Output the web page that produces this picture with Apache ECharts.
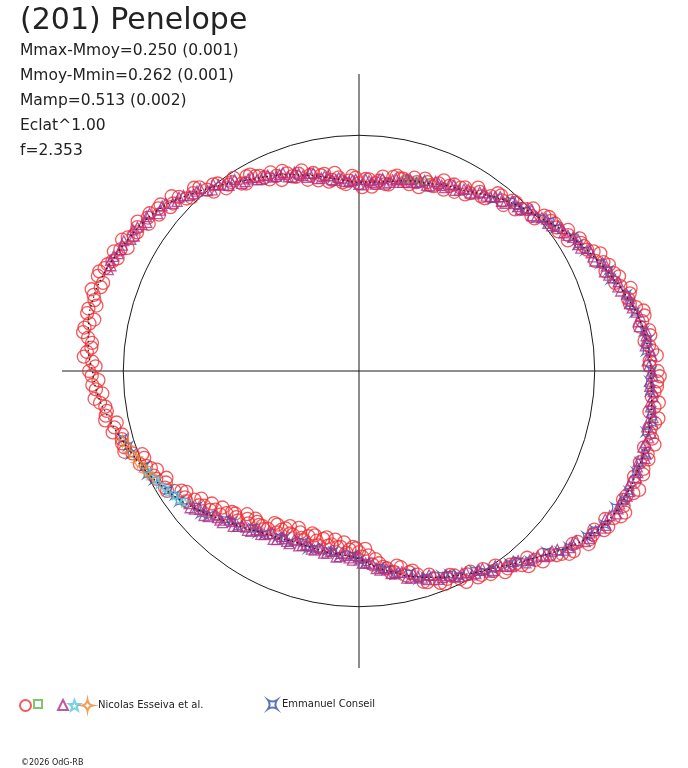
<!DOCTYPE html>
<html>
<head>
<meta charset="utf-8">
<script src="https://cdn.jsdelivr.net/npm/echarts@6/dist/echarts.min.js"></script>
<style>
html,body{margin:0;padding:0;background:#fff;}
#chart{width:688px;height:768px;}
</style>
</head>
<body>
<div id="chart"></div>
<script>
// Polar light curve: [phase in degrees, relative radius (reference circle = 1)]
const titleText = '(201) Penelope';
const statLines = ['Mmax-Mmoy=0.250 (0.001)', 'Mmoy-Mmin=0.262 (0.001)', 'Mamp=0.513 (0.002)', 'Eclat^1.00', 'f=2.353'];
const copyrightText = '\u00a92026 OdG-RB';
const referenceRadius = 1;
const radiusMax = 1.26;

const fitCurve = [[0,1.237],[5,1.229],[10,1.212],[15,1.182],[20,1.148],[25,1.114],[30,1.081],[35,1.047],[40,1.008],[45,0.979],
[50,0.949],[55,0.915],[60,0.886],[65,0.869],[70,0.847],[75,0.835],[80,0.818],[85,0.805],[90,0.801],[95,0.814],
[100,0.835],[105,0.860],[110,0.886],[115,0.911],[120,0.936],[125,0.970],[130,1.008],[135,1.047],[140,1.085],[145,1.110],
[150,1.127],[155,1.144],[160,1.161],[165,1.169],[170,1.165],[175,1.153],[180,1.131],[185,1.114],[190,1.085],[195,1.055],
[200,1.025],[205,1.000],[210,0.970],[215,0.941],[220,0.907],[225,0.873],[230,0.843],[235,0.818],[240,0.797],[245,0.784],
[250,0.775],[255,0.775],[260,0.780],[265,0.784],[270,0.797],[275,0.835],[280,0.869],[285,0.903],[290,0.932],[295,0.958],
[300,0.987],[305,1.017],[310,1.059],[315,1.106],[320,1.161],[325,1.208],[330,1.237],[335,1.250],[340,1.254],[345,1.258],
[350,1.254],[355,1.246],[360,1.237]];

const redCirclesA = [[0,1.267],[2,1.234],[4,1.247],[6,1.218],[8,1.243],[10,1.220],[12,1.234],[14,1.184],[16,1.195],[18,1.166],
[20,1.174],[22,1.128],[24,1.135],[26,1.139],[28,1.096],[30,1.087],[32,1.045],[34,1.070],[36,1.037],[38,1.034],
[40,1.026],[42,0.984],[44,0.989],[46,0.953],[48,0.973],[50,0.945],[52,0.957],[54,0.906],[56,0.917],[58,0.890],
[60,0.900],[62,0.861],[64,0.874],[66,0.885],[68,0.846],[70,0.853],[72,0.820],[74,0.853],[76,0.830],[78,0.835],
[80,0.836],[82,0.801],[84,0.812],[86,0.784],[88,0.815],[90,0.797],[92,0.828],[94,0.795],[96,0.826],[98,0.819],
[100,0.849],[102,0.827],[104,0.857],[106,0.885],[108,0.866],[110,0.892],[112,0.874],[114,0.922],[116,0.914],[118,0.936],
[120,0.954],[122,0.938],[124,0.967],[126,0.958],[128,1.005],[130,1.004],[132,1.046],[134,1.023],[136,1.063],[138,1.062],
[140,1.099],[142,1.077],[144,1.107],[146,1.133],[148,1.110],[150,1.133],[152,1.112],[154,1.157],[156,1.145],[158,1.164],
[160,1.179],[162,1.152],[164,1.171],[166,1.148],[168,1.179],[170,1.161],[172,1.182],[174,1.139],[176,1.157],[178,1.132],
[180,1.145],[182,1.106],[184,1.119],[186,1.128],[188,1.087],[190,1.091],[192,1.051],[194,1.077],[196,1.047],[198,1.047],
[200,1.023],[202,0.983],[204,0.989],[206,0.954],[208,0.974],[210,0.946],[212,0.960],[214,0.908],[216,0.912],[218,0.886],
[220,0.886],[222,0.840],[224,0.847],[226,0.847],[228,0.805],[230,0.809],[232,0.771],[234,0.799],[236,0.772],[238,0.775],
[240,0.773],[242,0.738],[244,0.749],[246,0.720],[248,0.749],[250,0.729],[252,0.755],[254,0.717],[256,0.742],[258,0.728],
[260,0.752],[262,0.722],[264,0.750],[266,0.772],[268,0.747],[270,0.768],[272,0.755],[274,0.823],[276,0.820],[278,0.845],
[280,0.867],[282,0.851],[284,0.880],[286,0.899],[288,0.942],[290,0.938],[292,0.974],[294,0.947],[296,0.982],[298,0.977],
[300,1.011],[302,0.991],[304,1.023],[306,1.055],[308,1.042],[310,1.075],[312,1.066],[314,1.123],[316,1.125],[318,1.159],
[320,1.189],[322,1.178],[324,1.213],[326,1.204],[328,1.247],[330,1.248],[332,1.279],[334,1.246],[336,1.274],[338,1.259],
[340,1.283],[342,1.253],[344,1.274],[346,1.292],[348,1.261],[350,1.275],[352,1.244],[354,1.279],[356,1.257],[358,1.266]];

const redCirclesB = [[1,1.233],[3,1.265],[5,1.235],[7,1.245],[9,1.206],[11,1.234],[13,1.206],[15,1.182],[17,1.205],[19,1.149],
[21,1.159],[23,1.152],[25,1.106],[27,1.117],[29,1.092],[31,1.092],[33,1.059],[35,1.033],[37,1.040],[39,1.038],
[41,0.987],[43,1.011],[45,0.973],[47,0.977],[49,0.933],[51,0.958],[53,0.929],[55,0.904],[57,0.928],[59,0.874],
[61,0.889],[63,0.888],[65,0.849],[67,0.865],[69,0.844],[71,0.863],[73,0.838],[75,0.821],[77,0.837],[79,0.844],
[81,0.801],[83,0.831],[85,0.800],[87,0.814],[89,0.780],[91,0.820],[93,0.809],[95,0.803],[97,0.847],[99,0.813],
[101,0.846],[103,0.862],[105,0.840],[107,0.875],[109,0.873],[111,0.909],[113,0.899],[115,0.897],[117,0.929],[119,0.953],
[121,0.928],[123,0.977],[125,0.965],[127,0.996],[129,0.979],[131,1.032],[133,1.032],[135,1.035],[137,1.087],[139,1.060],
[141,1.096],[143,1.112],[145,1.089],[147,1.121],[149,1.116],[151,1.149],[153,1.136],[155,1.130],[157,1.159],[159,1.180],
[161,1.148],[163,1.186],[165,1.162],[167,1.178],[169,1.144],[171,1.179],[173,1.158],[175,1.140],[177,1.169],[179,1.118],
[181,1.134],[183,1.133],[185,1.093],[187,1.107],[189,1.083],[191,1.097],[193,1.065],[195,1.041],[197,1.051],[199,1.053],
[201,0.985],[203,1.010],[205,0.974],[207,0.978],[209,0.934],[211,0.960],[213,0.933],[215,0.894],[217,0.917],[219,0.861],
[221,0.871],[223,0.864],[225,0.819],[227,0.825],[229,0.801],[231,0.816],[233,0.786],[235,0.765],[237,0.778],[239,0.783],
[241,0.738],[243,0.768],[245,0.737],[247,0.749],[249,0.713],[251,0.749],[253,0.733],[255,0.722],[257,0.759],[259,0.719],
[261,0.745],[263,0.753],[265,0.730],[267,0.759],[269,0.752],[271,0.788],[273,0.783],[275,0.801],[277,0.837],[279,0.864],
[281,0.841],[283,0.890],[285,0.877],[287,0.935],[289,0.914],[291,0.963],[293,0.958],[295,0.957],[297,1.004],[299,0.973],
[301,1.009],[303,1.027],[305,1.008],[307,1.048],[309,1.053],[311,1.097],[313,1.096],[315,1.103],[317,1.146],[319,1.182],
[321,1.166],[323,1.220],[325,1.211],[327,1.240],[329,1.219],[331,1.271],[333,1.260],[335,1.252],[337,1.291],[339,1.250],
[341,1.276],[343,1.284],[345,1.252],[347,1.276],[349,1.262],[351,1.286],[353,1.263],[355,1.247],[357,1.266],[359,1.276]];

const greenSquares = [[70.5,0.850],[72.5,0.846],[74,0.838],[76.5,0.836]];

const magentaTrianglesA = [[219,0.922],[221,0.894],[223,0.899],[225,0.864],[227,0.865],[229,0.837],[231,0.848],[233,0.824],[235,0.825],[237,0.802],
[239,0.809],[241,0.789],[243,0.802],[245,0.775],[247,0.785],[249,0.765],[251,0.785],[253,0.771],[255,0.782],[257,0.769],
[259,0.787],[261,0.775],[263,0.795],[265,0.775],[267,0.794],[269,0.783],[271,0.815],[273,0.816],[275,0.841],[277,0.841],
[279,0.870],[281,0.870],[283,0.902],[285,0.893],[287,0.919],[289,0.914],[291,0.947],[293,0.944],[295,0.965],[297,0.962],
[299,0.989],[301,0.987],[303,1.017],[305,1.008],[307,1.038],[309,1.039],[311,1.079],[313,1.084],[315,1.113],[317,1.120],
[319,1.158],[321,1.165],[323,1.202],[325,1.197],[327,1.224],[329,1.219],[331,1.250],[333,1.241],[335,1.255],[337,1.244],
[339,1.261],[341,1.249],[343,1.269],[345,1.247],[347,1.261],[349,1.243],[351,1.263],[353,1.246],[355,1.252],[357,1.235],
[359,1.247],[1,1.230],[3,1.245],[5,1.219],[7,1.227],[9,1.204],[11,1.216],[13,1.190],[15,1.188],[17,1.161],
[19,1.163],[21,1.135],[23,1.140],[25,1.104],[27,1.105],[29,1.076],[31,1.084],[33,1.057],[35,1.053],[37,1.024],
[39,1.024],[41,0.996],[43,1.003],[45,0.969],[47,0.971],[49,0.943],[51,0.952],[53,0.925],[55,0.922],[57,0.896],
[59,0.900],[61,0.877],[63,0.888],[65,0.859],[67,0.865],[69,0.840],[71,0.855],[73,0.836],[75,0.841],[77,0.821],
[79,0.830],[81,0.810],[83,0.823],[85,0.796],[87,0.808],[89,0.790],[91,0.814],[93,0.805],[95,0.821],[97,0.815],
[99,0.839],[101,0.834],[103,0.862],[105,0.850],[107,0.875],[109,0.869],[111,0.901],[113,0.897],[115,0.917],[117,0.913],
[119,0.939],[121,0.937],[123,0.969],[125,0.961],[127,0.990],[129,0.989],[131,1.026],[133,1.028],[135,1.053],[137,1.055],
[139,1.086],[141,1.084],[143,1.112],[145,1.099],[147,1.121],[149,1.112],[151,1.141],[153,1.134],[155,1.150],[157,1.143]];

const magentaTrianglesB = [[218,0.914],[220,0.912],[222,0.882],[224,0.889],[226,0.864],[228,0.866],[230,0.834],[232,0.836],[234,0.818],[236,0.821],
[238,0.798],[240,0.802],[242,0.781],[244,0.796],[246,0.779],[248,0.790],[250,0.766],[252,0.778],[254,0.770],[256,0.783],
[258,0.771],[260,0.785],[262,0.771],[264,0.792],[266,0.784],[268,0.803],[270,0.788],[272,0.815],[274,0.822],[276,0.849],
[278,0.848],[280,0.874],[282,0.872],[284,0.905],[286,0.906],[288,0.931],[290,0.923],[292,0.945],[294,0.948],[296,0.971],
[298,0.968],[300,0.992],[302,0.988],[304,1.020],[306,1.022],[308,1.053],[310,1.050],[312,1.081],[314,1.092],[316,1.124],
[318,1.132],[320,1.166],[322,1.169],[324,1.208],[326,1.211],[328,1.236],[330,1.228],[332,1.245],[334,1.242],[336,1.258],
[338,1.245],[340,1.259],[342,1.245],[344,1.266],[346,1.254],[348,1.267],[350,1.245],[352,1.254],[354,1.243],[356,1.251],
[358,1.234],[0,1.242],[2,1.223],[4,1.240],[6,1.223],[8,1.230],[10,1.203],[12,1.203],[14,1.183],[16,1.182],
[18,1.155],[20,1.153],[22,1.123],[24,1.130],[26,1.104],[28,1.105],[30,1.072],[32,1.070],[34,1.049],[36,1.046],
[38,1.017],[40,1.013],[42,0.985],[44,0.994],[46,0.970],[48,0.972],[50,0.940],[52,0.938],[54,0.917],[56,0.916],
[58,0.891],[60,0.891],[62,0.868],[64,0.881],[66,0.862],[68,0.867],[70,0.838],[72,0.845],[74,0.832],[76,0.839],
[78,0.818],[80,0.823],[82,0.802],[84,0.817],[86,0.801],[88,0.814],[90,0.792],[92,0.809],[94,0.806],[96,0.825],
[98,0.820],[100,0.840],[102,0.834],[104,0.864],[106,0.862],[108,0.887],[110,0.877],[112,0.899],[114,0.901],[116,0.923],
[118,0.919],[120,0.941],[122,0.939],[124,0.972],[126,0.975],[128,1.004],[130,0.999],[132,1.027],[134,1.034],[136,1.062],
[138,1.063],[140,1.090],[142,1.084],[144,1.114],[146,1.110],[148,1.131],[150,1.118],[152,1.137],[154,1.136],[156,1.154],[158,1.147]];

const cyanStars = [[205,0.992],[206.5,0.990],[208,0.975],[209.5,0.975],[211,0.958],[212.5,0.960],[214,0.940],[215.5,0.942],[217,0.925]];

const orangeStars = [[196.5,1.046],[198,1.030],[199.5,1.034],[201,1.014],[202.5,1.016],[204,0.998],[205.5,1.001],[207,0.982]];

const blueConseilA = [[196,1.043],[200,1.029],[204,0.995],[208,0.984],[212,0.954],[216,0.942],[220,0.895],[224,0.880],[228,0.849],[232,0.837],
[236,0.804],[240,0.799],[244,0.783],[248,0.787],[252,0.763],[256,0.776],[260,0.774],[264,0.787],[268,0.782],[272,0.814],
[276,0.838],[280,0.877],[284,0.884],[288,0.920],[292,0.936],[296,0.968],[300,0.977],[304,1.013],[308,1.038],[312,1.086],
[316,1.105],[320,1.161],[324,1.193],[328,1.229],[332,1.232],[336,1.253],[340,1.250],[344,1.265],[348,1.244],[352,1.251],
[356,1.238],[0,1.241],[4,1.221],[8,1.221],[12,1.196],[16,1.183],[20,1.136],[24,1.121],[28,1.088],[32,1.071],
[36,1.029],[40,1.010],[44,0.981],[48,0.969],[52,0.923]];

const blueConseilB = [[198,1.029],[206,1.000],[214,0.943],[222,0.903],[230,0.835],[238,0.811],[246,0.778],[254,0.785],[262,0.774],[270,0.803],
[278,0.851],[286,0.919],[294,0.945],[302,1.005],[310,1.055],[318,1.149],[326,1.206],[334,1.253],[342,1.252],[350,1.264],
[358,1.233],[6,1.232],[14,1.184],[22,1.144],[30,1.073],[38,1.030],[46,0.969]];

const observerEsseiva = 'Nicolas Esseiva et al.';
const observerConseil = 'Emmanuel Conseil';

const FONT = 'DejaVu Sans';
const hollow = (c, w) => ({ color: 'rgba(0,0,0,0)', borderColor: c, borderWidth: w || 1 });
const STAR5 = 'path://M0,-10 L2.35,-3.24 9.51,-3.09 3.8,1.24 5.88,8.09 0,4 -5.88,8.09 -3.8,1.24 -9.51,-3.09 -2.35,-3.24 Z';
const STAR4 = 'path://M0,-10 Q1.5,-1.5 10,0 Q1.5,1.5 0,10 Q-1.5,1.5 -10,0 Q-1.5,-1.5 0,-10 Z';
const ASTROID = 'path://M-10,-10 Q0,-3 10,-10 Q3,0 10,10 Q0,3 -10,10 Q-3,0 -10,-10 Z';

function scatter(name, data, symbol, size, color, z, bw) {
  return {
    name, type: 'scatter', coordinateSystem: 'polar', data, clip: false,
    encode: { angle: 0, radius: 1 },
    symbol, symbolSize: size, itemStyle: hollow(color, bw), z: z,
    emphasis: { disabled: true }, silent: true
  };
}

function legendItem(name, left, w, h, label) {
  return {
    data: [name], left: left, top: 699, itemWidth: w, itemHeight: h, itemGap: 0,
    padding: 0, selectedMode: false,
    formatter: () => label || '',
    textStyle: { fontFamily: FONT, fontSize: 10, color: '#222', padding: [0, 0, 0, 0] }
  };
}

const chart = echarts.init(document.getElementById('chart'), null, { renderer: 'canvas' });
chart.setOption({
  animation: false,
  backgroundColor: '#ffffff',
  title: [
    { text: titleText, left: 20, top: 4, padding: 0,
      textStyle: { fontFamily: FONT, fontSize: 30, fontWeight: 'normal', color: '#222', lineHeight: 34 } },
    { text: statLines.join('\n'), left: 20, top: 39, padding: 0,
      textStyle: { fontFamily: FONT, fontSize: 15.5, fontWeight: 'normal', color: '#222', lineHeight: 24.8 } },
    { text: copyrightText, left: 21, top: 758, padding: 0,
      textStyle: { fontFamily: FONT, fontSize: 8, fontWeight: 'normal', color: '#222', lineHeight: 10 } }
  ],
  legend: [
    legendItem('circles', 19, 11, 11, ''),
    legendItem('squares', 33, 8, 8, ''),
    legendItem('triangles', 57, 10, 10, ''),
    legendItem('stars', 68, 11, 11, ''),
    legendItem('fourstars', 81, 11, 11, observerEsseiva),
    legendItem('conseil', 267, 9, 9, observerConseil)
  ],
  polar: { center: [359, 371], radius: 297 },
  angleAxis: {
    type: 'value', min: 0, max: 360, interval: 90, startAngle: 0, clockwise: false,
    axisLine: { show: false }, axisTick: { show: false }, axisLabel: { show: false },
    splitLine: { show: true, lineStyle: { color: '#1a1a1a', width: 1 } }
  },
  radiusAxis: {
    type: 'value', min: 0, max: radiusMax, interval: referenceRadius,
    axisLine: { show: false }, axisTick: { show: false }, axisLabel: { show: false },
    splitLine: { show: true, lineStyle: { color: ['rgba(0,0,0,0)', '#1a1a1a', 'rgba(0,0,0,0)'], width: 1 } }
  },
  series: [
    scatter('circles', redCirclesA.concat(redCirclesB), 'circle', 13, '#f03035', 2, 1.3),
    scatter('squares', greenSquares, 'rect', 6, '#5cb84a', 3, 1.2),
    scatter('conseil', blueConseilA.concat(blueConseilB), ASTROID, 8, '#3650a8', 3, 1.2),
    scatter('triangles', magentaTrianglesA.concat(magentaTrianglesB), 'triangle', 10, '#ac2f86', 4, 1.3),
    scatter('stars', cyanStars, STAR5, 9, '#55c8e0', 5, 1.2),
    scatter('fourstars', orangeStars, STAR4, 10, '#f0862e', 5, 1.2),
    {
      name: 'fit', type: 'line', coordinateSystem: 'polar', data: fitCurve, clip: false,
      encode: { angle: 0, radius: 1 }, smooth: true, showSymbol: false, silent: true, z: 6,
      lineStyle: { color: '#1a1a1a', width: 1.2, type: [1.5, 3] }
    }
  ]
});
</script>
</body>
</html>
